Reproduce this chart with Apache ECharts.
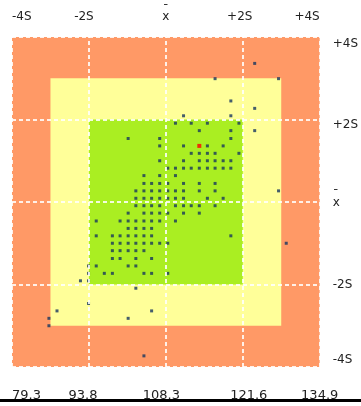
<!DOCTYPE html>
<html>
<head>
<meta charset="utf-8">
<script src="https://cdn.jsdelivr.net/npm/echarts@6/dist/echarts.min.js"></script>
<style>
  html, body { margin: 0; padding: 0; background: #fff; }
  #chart { width: 361px; height: 406px; }
</style>
</head>
<body>
<div id="chart"></div>
<script>
// Tick positions in standard-deviation units and the labels shown at them
const sdTicks = [-4, -2, 0, 2, 4];
const sdLabels = ['-4S', '-2S', 'MEAN', '+2S', '+4S'];
const valueLabels = ['79.3', '93.8', '108.3', '121.6', '134.9'];

// Control zones (half-width in S): outer, warning, acceptable
const zoneLimits = [4, 3, 2];
const zoneColors = ['#FF9966', '#FFFF99', '#AAEE22'];

// Paired results in S units, grouped by their y level
const rowLevels = [3.36, 2.99, 2.45, 2.27, 2.09, 1.91, 1.73, 1.54, 1.36, 1.18, 1.00, 0.82, 0.64, 0.45, 0.27, 0.09,
  -0.09, -0.27, -0.46, -0.64, -0.82, -1.00, -1.18, -1.37, -1.55, -1.73, -1.91, -2.09, -2.46, -2.64, -2.82, -3.00, -3.73];
const rowMembers = [
  [2.31],
  [1.28, 2.93],
  [1.69],
  [2.31],
  [0.46, 1.69],
  [0.25, 0.66, 1.08, 1.90],
  [0.87, 1.69, 2.31],
  [-0.98, -0.16, 1.69],
  [-0.16, 0.46, 1.08, 1.49],
  [0.66, 0.87, 1.08, 1.28, 1.90],
  [-0.16, 0.46, 0.87, 1.08, 1.28, 1.49, 1.69],
  [0.05, 0.25, 0.46, 0.66, 0.87, 1.08, 1.28, 1.49, 1.69],
  [-0.57, -0.16, 0.25],
  [-0.57, -0.37, -0.16, 0.05, 0.46, 0.87, 1.28],
  [-0.78, -0.57, -0.37, -0.16, 0.05, 0.25, 0.46, 0.87, 1.28, 2.93],
  [-0.78, -0.57, -0.37, -0.16, 0.05, 0.25, 0.46, 1.08, 1.49],
  [-0.78, -0.57, -0.37, -0.16, 0.25, 0.46, 0.66, 0.87, 1.28],
  [-0.98, -0.57, -0.37, -0.16, 0.05, 0.46, 0.87],
  [-1.81, -1.19, -0.98, -0.78, -0.57, -0.37, -0.16, 0.25],
  [-0.98, -0.78, -0.57, -0.37],
  [-1.81, -1.39, -1.19, -0.98, -0.78, -0.57, -0.37, 1.69],
  [-1.39, -1.19, -0.98, -0.78, -0.57, -0.37, -0.16, 0.05, 3.13],
  [-1.39, -1.19, -0.98, -0.78, -0.57],
  [-1.39, -1.19, -0.78, -0.37],
  [-2.01, -1.81, -0.98, -0.78],
  [-2.01, -1.60, -1.39, -0.57, -0.37, 0.05],
  [-2.22, -2.01],
  [-0.78],
  [-2.01],
  [-2.83, -0.37],
  [-3.04, -0.98],
  [-3.04],
  [-0.57]
];

// The highlighted result
const highlighted = [[0.87, 1.36]];

const samples = [];
rowLevels.forEach((y, i) => rowMembers[i].forEach(x => samples.push([x, y])));

const fontFamily = 'DejaVu Sans, Verdana, sans-serif';
const textColor = '#222';
const baseText = { fontSize: 12, color: textColor, fontFamily };

// Rich styles: the mean symbol (bar over x) and small nudges for individual labels
const topRich = {
  bar: { ...baseText, lineHeight: 1 },
  sym: { ...baseText, lineHeight: 14 },
  l: { ...baseText, lineHeight: 14, padding: [0, 10, 0, 0] },
  l6: { ...baseText, lineHeight: 14, padding: [0, 6, 0, 0] }
};
const rightRich = {
  bar: { ...baseText, lineHeight: 1 },
  sym: { ...baseText, lineHeight: 14 },
  dn: { ...baseText, lineHeight: 14, padding: [10, 0, 0, 0] }
};
const bottomText = { fontSize: 13, color: textColor, fontFamily };
const bottomRich = {
  l12: { ...bottomText, padding: [0, 12, 0, 0] },
  l9: { ...bottomText, padding: [0, 9, 0, 0] },
  r12: { ...bottomText, padding: [0, 0, 0, 12] }
};

const meanText = '{bar|¯}\n{sym|x}';
const topFormatter = v => {
  const i = sdTicks.indexOf(v);
  if (sdLabels[i] === 'MEAN') return meanText;
  if (i === 1) return '{l|' + sdLabels[i] + '}';
  if (i === 3) return '{l6|' + sdLabels[i] + '}';
  return sdLabels[i];
};
const rightFormatter = v => {
  const i = sdTicks.indexOf(v);
  if (sdLabels[i] === 'MEAN') return meanText;
  if (i === 3) return '{dn|' + sdLabels[i] + '}';
  return sdLabels[i];
};
const bottomFormatter = v => {
  const i = sdTicks.indexOf(v);
  const tags = [null, 'l12', 'l9', 'r12', null];
  return tags[i] ? '{' + tags[i] + '|' + valueLabels[i] + '}' : valueLabels[i];
};

const zoneAreas = zoneLimits.map((lim, i) => [
  { coord: [-lim, -lim], itemStyle: { color: zoneColors[i], opacity: 1 } },
  { coord: [lim, lim] }
]);

// Dashed white reference lines drawn over the zones
const gridLines = sdTicks.map(v => ({ xAxis: v })).concat(sdTicks.map(v => ({ yAxis: v })));

const edgeLine = { show: true, lineStyle: { color: '#cccccc', width: 1 } };

const chart = echarts.init(document.getElementById('chart'), null, { renderer: 'canvas' });
chart.setOption({
  animation: false,
  backgroundColor: '#ffffff',
  grid: { left: 12, top: 37, right: 38, bottom: 39 },
  xAxis: [
    {
      type: 'value', min: -4, max: 4, interval: 2, position: 'bottom',
      axisLine: edgeLine, axisTick: { show: false }, splitLine: { show: false },
      axisLabel: {
        formatter: bottomFormatter, rich: bottomRich,
        margin: 22, ...bottomText,
        alignMinLabel: 'left'
      }
    },
    {
      type: 'value', min: -4, max: 4, interval: 2, position: 'top',
      axisLine: edgeLine, axisTick: { show: false }, splitLine: { show: false },
      axisLabel: {
        formatter: topFormatter, rich: topRich, margin: 13, ...baseText, lineHeight: 14,
        alignMinLabel: 'left', alignMaxLabel: 'right'
      }
    }
  ],
  yAxis: [
    {
      type: 'value', min: -4, max: 4, interval: 2, position: 'left',
      axisLine: edgeLine, axisTick: { show: false }, splitLine: { show: false },
      axisLabel: { show: false }
    },
    {
      type: 'value', min: -4, max: 4, interval: 2, position: 'right',
      axisLine: edgeLine, axisTick: { show: false }, splitLine: { show: false },
      axisLabel: {
        formatter: rightFormatter, rich: rightRich, margin: 13, ...baseText, lineHeight: 14,
        verticalAlignMinLabel: 'bottom', verticalAlignMaxLabel: 'top'
      }
    }
  ],
  series: [
    {
      name: 'zones', type: 'scatter', data: [], z: 1, silent: true,
      markArea: { silent: true, data: zoneAreas }
    },
    {
      name: 'grid', type: 'scatter', data: [], z: 2, silent: true,
      markLine: {
        silent: true, symbol: ['none', 'none'], label: { show: false },
        lineStyle: { color: 'rgba(255,255,255,0.85)', type: [4, 3], width: 2 },
        data: gridLines
      }
    },
    {
      name: 'results', type: 'scatter', z: 3, data: samples,
      symbol: 'rect', symbolSize: 3,
      itemStyle: { color: '#17365f' }
    },
    {
      name: 'current', type: 'scatter', z: 4, data: highlighted,
      symbol: 'rect', symbolSize: 4,
      itemStyle: { color: '#ff0000' }
    }
  ],
  graphic: [
    { type: 'rect', left: 0, top: 399, shape: { width: 361, height: 3 }, style: { fill: '#000000' }, silent: true }
  ]
});
</script>
</body>
</html>
